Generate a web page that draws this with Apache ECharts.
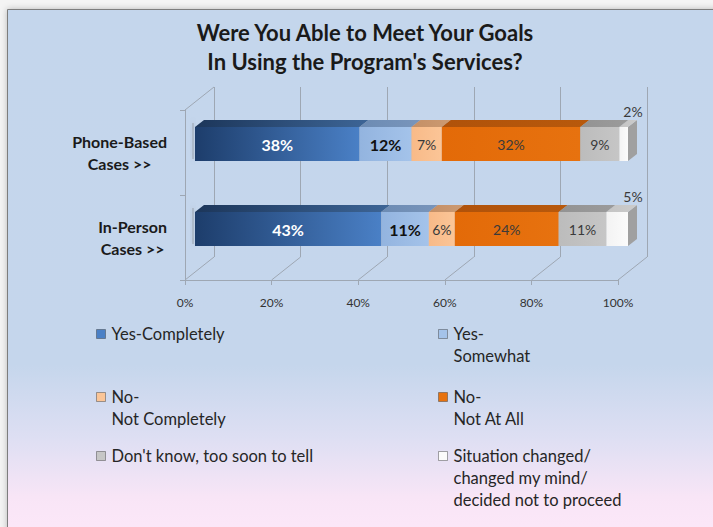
<!DOCTYPE html>
<html>
<head>
  <meta charset="utf-8" />
  <title>Meeting goals</title>
  <script src="https://cdn.jsdelivr.net/npm/echarts@6/dist/echarts.min.js"></script>
  <style>
    html, body { margin: 0; padding: 0; background: #f4f4f4; }
    #main { width: 713px; height: 527px; }
  </style>
</head>
<body>
<div id="main"></div>
<script type="text/javascript">
  // data
  var categories = ['Phone-Based\nCases >>', 'In-Person\nCases >>'];
  var responses = [
    'Yes-Completely',
    'Yes-\nSomewhat',
    'No-\nNot Completely',
    'No-\nNot At All',
    "Don't know, too soon to tell",
    'Situation changed/\nchanged my mind/\ndecided not to proceed'
  ];
  var phoneValues = [38, 12, 7, 32, 9, 2];
  var inPersonValues = [43, 11, 6, 24, 11, 5];
  var xTicks = [0, 20, 40, 60, 80, 100];

  var FONT = 'Lato, "Open Sans", sans-serif';
  // fake 3d: bar front plane shift, bar depth, back wall shift
  var BAR_DX = 10, BAR_DY = -8.5, DEPTH_X = 9, DEPTH_Y = 7, WALL_X = 29, WALL_Y = 23;
  var wallColor = '#9ea7b3';

  var looks = [
    { front: ['#1d3d6b', '#4a80c6'], top: ['#1c365a', '#3d6596'], label: '#ffffff', bold: true, size: 16 },
    { front: ['#93b4df', '#a4c3ea'], top: ['#6c8bb3', '#7995bb'], label: '#111111', bold: true, size: 16 },
    { front: ['#f8ba88', '#fbc597'], top: ['#c48f66', '#cc9a72'], label: '#3a3a3a', bold: false, size: 14 },
    { front: ['#e36a08', '#e7720f'], top: ['#b0520a', '#b8590c'], label: '#3a3a3a', bold: false, size: 14 },
    { front: ['#bcbcbc', '#c6c6c6'], top: ['#939393', '#9b9b9b'], label: '#3a3a3a', bold: false, size: 14 },
    { front: ['#f3f3f3', '#fbfbfb'], top: ['#c4c4c4', '#cbcbcb'], label: '#3a3a3a', bold: false, size: 14 }
  ];

  function grad(c) {
    return new echarts.graphic.LinearGradient(0, 0, 1, 0, [
      { offset: 0, color: c[0] }, { offset: 1, color: c[1] }
    ]);
  }

  function barItem(j) {
    return function (params, api) {
      var start = api.value(0), end = api.value(1), cat = api.value(2), val = api.value(3);
      var p0 = api.coord([start, cat]);
      var p1 = api.coord([end, cat]);
      var h = api.size([0, 1])[1] * 0.4;
      var x0 = p0[0] + BAR_DX, x1 = p1[0] + BAR_DX;
      var yT = p0[1] + BAR_DY - h / 2, yB = yT + h;
      var lk = looks[j];
      var kids = [];
      if (j === 0) {
        // soft shadow cast on the side wall
        kids.push({ type: 'rect', shape: { x: x0 - 3, y: yT - 4, width: 2, height: h + 2 },
          style: { fill: 'rgba(110,110,110,0.25)', shadowBlur: 6, shadowColor: 'rgba(70,70,70,0.55)' } });
      }
      kids.push({ type: 'polygon', shape: { points: [[x1, yT], [x1 + DEPTH_X, yT - DEPTH_Y], [x1 + DEPTH_X, yB - DEPTH_Y], [x1, yB]] },
        style: { fill: '#a0a0a0' } });
      kids.push({ type: 'polygon', shape: { points: [[x0, yT], [x1, yT], [x1 + DEPTH_X, yT - DEPTH_Y], [x0 + DEPTH_X, yT - DEPTH_Y]] },
        style: { fill: grad(lk.top) } });
      kids.push({ type: 'rect', shape: { x: x0, y: yT, width: x1 - x0, height: h },
        style: { fill: grad(lk.front) } });
      var font = (lk.bold ? 'bold ' : '') + lk.size + 'px ' + FONT;
      if (j === responses.length - 1) {
        kids.push({ type: 'text', style: { text: val + '%', x: x1 + 5, y: yT - 16, align: 'center', verticalAlign: 'middle',
          fill: lk.label, font: font } });
      } else {
        kids.push({ type: 'text', style: { text: val + '%', x: (x0 + x1) / 2, y: (yT + yB) / 2, align: 'center', verticalAlign: 'middle',
          fill: lk.label, font: font } });
      }
      return { type: 'group', children: kids };
    };
  }

  function wallItem(params, api) {
    var cs = params.coordSys;
    var x = api.coord([api.value(0), 0])[0];
    var yB = cs.y + cs.height;
    var st = { stroke: wallColor, lineWidth: 1 };
    var kids = [{ type: 'line', shape: { x1: x, y1: yB, x2: x + WALL_X, y2: yB - WALL_Y }, style: st }];
    if (params.dataIndex === 0) {
      kids.push({ type: 'line', shape: { x1: x, y1: cs.y, x2: x + WALL_X, y2: cs.y - WALL_Y }, style: st });
    }
    return { type: 'group', children: kids };
  }

  var series = [{
    type: 'custom',
    name: 'walls',
    xAxisIndex: 0, yAxisIndex: 0,
    silent: true,
    renderItem: wallItem,
    encode: { x: 0, y: 1 },
    data: xTicks.map(function (t) { return [t, 0]; })
  }];

  var byCategory = [phoneValues, inPersonValues];
  var cum = [0, 0];
  responses.forEach(function (name, j) {
    var data = byCategory.map(function (vals, c) {
      var s = cum[c];
      cum[c] += vals[j];
      return [s, cum[c], c, vals[j]];
    });
    series.push({
      type: 'custom',
      name: name,
      renderItem: barItem(j),
      encode: { x: [0, 1], y: 2 },
      itemStyle: { color: looks[j].front[1] },
      data: data
    });
  });

  // legend slots: [col, row]
  var legendLeft = [96, 438];
  var legendRowY = [334, 397, 456];
  var legendSlots = [[0, 0], [1, 0], [0, 1], [1, 1], [0, 2], [1, 2]];
  var legends = responses.map(function (name, j) {
    var n = name.split('\n').length;
    var slot = legendSlots[j];
    var lead = new Array(n).join('\n'); // blank lines on top keep line one beside the icon
    return {
      data: [name],
      left: legendLeft[slot[0]],
      top: legendRowY[slot[1]] - (2 * n - 1) * 11,
      padding: 0,
      icon: 'rect',
      itemWidth: 9,
      itemHeight: 9,
      itemGap: 6,
      selectedMode: false,
      formatter: function (nm) { return lead + nm; },
      itemStyle: { borderColor: 'rgba(60,60,60,0.45)', borderWidth: 1 },
      textStyle: { fontFamily: FONT, fontSize: 16.5, lineHeight: 22, color: '#262626', padding: [0, 0, 0, 1] }
    };
  });

  var chartDom = document.getElementById('main');
  var myChart = echarts.init(chartDom, null, { renderer: 'svg' });
  var option = {
    backgroundColor: '#f4f4f4',
    animation: false,
    graphic: [{
      type: 'rect',
      z: -100,
      silent: true,
      shape: { x: 7.5, y: 9.5, width: 720, height: 530 },
      style: {
        fill: new echarts.graphic.LinearGradient(0, 0, 0, 1, [
          { offset: 0, color: '#c4d6ec' },
          { offset: 0.67, color: '#c5d6ec' },
          { offset: 0.81, color: '#dedff3' },
          { offset: 0.92, color: '#f8e5f6' },
          { offset: 1, color: '#fde8f9' }
        ]),
        stroke: '#7d7d7d',
        lineWidth: 1,
        shadowBlur: 6,
        shadowColor: 'rgba(0,0,0,0.25)'
      }
    }],
    title: {
      text: "Were You Able to Meet Your Goals\nIn Using the Program's Services?",
      left: 365,
      top: 18,
      textAlign: 'center',
      padding: 0,
      textStyle: { fontFamily: FONT, fontWeight: 'bold', fontSize: 22, lineHeight: 29, color: '#1a1a1a' }
    },
    legend: legends,
    grid: [
      { left: 185, right: 95, top: 110, bottom: 247 },
      { left: 214, right: 66, top: 87, bottom: 270 }
    ],
    xAxis: [{
      type: 'value', gridIndex: 0, min: 0, max: 100, interval: 20,
      axisLine: { show: true, lineStyle: { color: wallColor } },
      axisTick: { show: true, length: 5, lineStyle: { color: wallColor } },
      splitLine: { show: false },
      axisLabel: { formatter: '{value}%', margin: 16, fontFamily: FONT, fontSize: 12, color: '#333' }
    }, {
      type: 'value', gridIndex: 1, min: 0, max: 100, interval: 20,
      axisLine: { show: false }, axisTick: { show: false }, axisLabel: { show: false },
      splitLine: { show: true, lineStyle: { color: wallColor, width: 1 } }
    }],
    yAxis: [{
      type: 'category', gridIndex: 0, inverse: true, data: categories,
      axisLine: { show: true, lineStyle: { color: wallColor } },
      axisTick: { show: true, length: 5, lineStyle: { color: wallColor } },
      axisLabel: {
        margin: 18,
        formatter: function (v) {
          return v.split('\n').map(function (l) { return '{c|' + l + '}'; }).join('\n');
        },
        rich: { c: { align: 'center', fontFamily: FONT, fontWeight: 'bold', fontSize: 16, lineHeight: 22, color: '#1a1a1a' } }
      }
    }, {
      type: 'category', gridIndex: 1, data: categories, show: false
    }],
    series: series
  };

  option && myChart.setOption(option);
</script>
</body>
</html>
